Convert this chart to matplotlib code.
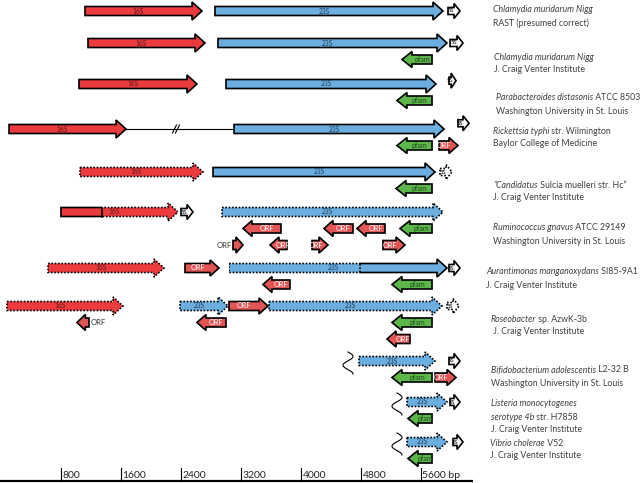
import numpy as np
import matplotlib.pyplot as plt
from matplotlib.patches import Polygon, Rectangle

plt.rcParams['font.family'] = ['Lato', 'DejaVu Sans']

# ---- data: features in bp, (kind, start, end, lane, dotted)
# start > end means the feature sits on the minus strand
# dotted: 0 = solid outline, 1 = dotted outline, (a, b) = dotted only between a and b
chlamydia_rast = [('16S', 1120, 2680, 0, 0), ('23S', 2853, 5893, 0, 0), ('5S', 5960, 6120, 0, 0)]
chlamydia_jcvi = [('16S', 1160, 2720, 0, 0), ('23S', 2893, 5947, 0, 0), ('5S', 5987, 6160, 0, 0),
                  ('pfam', 5747, 5347, 1, 0)]
parabacteroides = [('16S', 1040, 2613, 0, 0), ('23S', 3000, 5800, 0, 0), ('5S', 5973, 6067, -0.2, 0),
                   ('pfam', 5747, 5280, 1, 0)]
rickettsia = [('16S', 107, 1667, 0, 0), ('23S', 3107, 5907, 0, 0), ('5S', 6093, 6240, -0.35, 0),
              ('pfam', 5747, 5280, 1, 0), ('ORF', 5840, 6093, 1, 0)]
candidatus = [('16S', 1053, 2693, 0, 1), ('23S', 2827, 5787, 0, 0), ('5S', 5853, 6013, 0, 1),
              ('pfam', 5747, 5267, 1, 0)]
ruminococcus = [('16S', 800, 2360, 0, (1347, 2360)), ('5S', 2400, 2560, 0, 0), ('23S', 2947, 5893, 0, 1),
                ('ORF', 3733, 3227, 1, 0), ('ORF', 3093, 3227, 2, 0), ('ORF', 3813, 3587, 2, 0),
                ('ORF', 4147, 4360, 2, 0), ('ORF', 4693, 4307, 1, 0), ('ORF', 5120, 4747, 1, 0),
                ('pfam', 5747, 5320, 1, 0), ('ORF', 5093, 5387, 2, 0)]
aurantimonas = [('16S', 627, 2173, 0, 1), ('ORF', 2453, 2907, 0, 0), ('23S', 3040, 5947, 0, (3040, 4787)),
                ('5S', 5973, 6120, 0, 0), ('ORF', 3853, 3493, 1, 0), ('pfam', 5747, 5213, 1, 0)]
roseobacter = [('16S', 80, 1627, 0, 1), ('ORF', 1173, 1013, 1, 0), ('23S', 2387, 3027, 0, 1),
               ('ORF', 3040, 3560, 0, 0), ('23S', 3573, 5880, 0, 1), ('5S', 5947, 6107, 0, 1),
               ('ORF', 3000, 2613, 1, 0), ('pfam', 5747, 5213, 1, 0), ('ORF', 5453, 5147, 2, 0)]
bifidobacterium = [('23S', 4773, 5787, 0, 1), ('5S', 5973, 6120, 0, 0), ('pfam', 5747, 5213, 1, 0),
                   ('ORF', 5787, 6067, 1, 0)]
listeria = [('23S', 5413, 5947, 0, 1), ('5S', 5987, 6120, 0, 0), ('pfam', 5747, 5427, 1, 0)]
vibrio = [('23S', 5413, 5947, 0, 1), ('5S', 6027, 6160, 0, 0), ('pfam', 5747, 5427, 1, 0)]

genomes = [chlamydia_rast, chlamydia_jcvi, parabacteroides, rickettsia, candidatus, ruminococcus,
           aurantimonas, roseobacter, bifidobacterium, listeria, vibrio]

# gap between 16S and 23S in Rickettsia, and contig breaks (squiggles)
rickettsia_gap = (1667, 3107, 2333)
breaks = {8: 4627, 9: 5280, 10: 5280}

# strain / source labels: list of lines, each line a list of (text, italic)
labels = [
    [[('Chlamydia muridarum Nigg', True)], [('RAST (presumed correct)', False)]],
    [[('Chlamydia muridarum Nigg', True)], [('J. Craig Venter Institute', False)]],
    [[('Parabacteroides distasonis', True), (' ATCC 8503', False)], [('Washington University in St. Louis', False)]],
    [[('Rickettsia typhi', True), (' str. Wilmington', False)], [('Baylor College of Medicine', False)]],
    [[('\u201cCandidatus', True), (' Sulcia muelleri str. Hc\u201d', False)], [('J. Craig Venter Institute', False)]],
    [[('Ruminococcus gnavus', True), (' ATCC 29149', False)], [('Washington University in St. Louis', False)]],
    [[('Aurantimonas manganoxydans', True), (' SI85-9A1', False)], [('J. Craig Venter Institute', False)]],
    [[('Roseobacter', True), (' sp. AzwK-3b', False)], [(' J. Craig Venter Institute', False)]],
    [[('Bifidobacterium adolescentis', True), (' L2-32 B', False)], [('Washington University in St. Louis', False)]],
    [[('Listeria monocytogenes', True)], [('serotype 4b', True), (' str. H7858', False)], [('J. Craig Venter Institute', False)]],
    [[('Vibrio cholerae', True), (' V52', False)], [('J. Craig Venter Institute', False)]],
]

ticks = [800, 1600, 2400, 3200, 4000, 4800, 5600]

# ---- layout (pixels)
BPP = 800 / 60.0  # bp per pixel


def bp(px):
    return (px - 1) * BPP


row_y = [11, 43, 84, 129, 172, 212, 268, 306, 361, 402, 442]
label_x = [493, 494, 496, 493, 493, 493, 486, 491, 491, 491, 490]
label_y = [10, 57, 98, 131, 185, 228, 272, 319, 370, 404, 443]
LANE = 16.5
LABEL_FS = 6.3

# kind: body height, head height, head length (px), fill, text colour, font size
shapes = {
    '16S': (9, 18, 10, '#ec3b3f', '#5a1515', 4.8),
    '23S': (9, 18, 10, '#6caee0', '#1c3d5e', 4.8),
    '5S': (7, 15, 6, 'white', 'black', 4.2),
    'pfam': (9, 16, 10, '#5db64a', '#1e4a1a', 5.0),
    'ORF': (9, 16, 9, '#e25555', 'white', 5.2),
}

fig = plt.figure(figsize=(6.4, 4.83), dpi=100)
ax = fig.add_axes([0, 0, 1, 1])
ax.set_xlim(bp(0), bp(640))
ax.set_ylim(483, 0)
ax.axis('off')


def outline(pts, ls, clip=None):
    p = Polygon(pts, closed=True, fill=False, edgecolor='black', lw=1.2, linestyle=ls, zorder=3)
    ax.add_patch(p)
    if clip is not None:
        r = Rectangle((clip[0], 0), clip[1] - clip[0], 483, transform=ax.transData)
        p.set_clip_path(r)


def draw_feature(kind, start, end, yc, dotted):
    body, head, hlen, fill, tcol, fs = shapes[kind]
    lo, hi = min(start, end), max(start, end)
    hl = min(hlen * BPP, (hi - lo) * 0.7)
    b, h = body / 2.0, head / 2.0
    if end > start:
        neck = hi - hl
        pts = [(lo, yc - b), (neck, yc - b), (neck, yc - h), (hi, yc), (neck, yc + h), (neck, yc + b), (lo, yc + b)]
        body_lo, body_hi = lo, neck
    else:
        neck = lo + hl
        pts = [(hi, yc - b), (neck, yc - b), (neck, yc - h), (lo, yc), (neck, yc + h), (neck, yc + b), (hi, yc + b)]
        body_lo, body_hi = neck, hi
    ax.add_patch(Polygon(pts, closed=True, facecolor=fill, edgecolor='none', zorder=2))
    if dotted == 0:
        outline(pts, '-')
    elif dotted == 1:
        outline(pts, (0, (1, 1)))
    else:
        a, c = dotted
        outline(pts, (0, (1, 1)), clip=(a - 1, c + 1))
        if a <= lo + 1:
            outline(pts, '-', clip=(c, hi + 200))
            ax.plot([c, c], [yc - b, yc + b], color='black', lw=1.2, ls=(0, (1, 1)), zorder=3)
        else:
            outline(pts, '-', clip=(lo - 200, a))
            ax.plot([a, a], [yc - b, yc + b], color='black', lw=1.2, zorder=3)
    if kind == 'ORF' and hi - lo < 200:
        if end > start:
            ax.text(lo - 1.5 * BPP, yc, 'ORF', ha='right', va='center', fontsize=5.5, color='#333333')
        else:
            ax.text(hi + 1.5 * BPP, yc, 'ORF', ha='left', va='center', fontsize=5.5, color='#333333')
        return
    ax.text((body_lo + body_hi) / 2.0, yc, kind, ha='center', va='center', fontsize=fs, color=tcol, zorder=4)


for i, feats in enumerate(genomes):
    y0 = row_y[i]
    for kind, start, end, lane, dotted in feats:
        draw_feature(kind, start, end, y0 + lane * LANE, dotted)

# Rickettsia: line between 16S and 23S with a break mark
g0, g1, gm = rickettsia_gap
y = row_y[3]
ax.plot([g0, g1], [y, y], color='black', lw=0.8, zorder=1)
for dx in (-1.5, 1.5):
    ax.plot([gm + (dx - 2) * BPP, gm + (dx + 2) * BPP], [y + 4, y - 4], color='black', lw=0.8)

# contig breaks
t = np.linspace(0, 1, 60)
for i, xb in breaks.items():
    yy = row_y[i] - 9 + 22 * t
    xx = xb + 5 * BPP * np.sin(2 * np.pi * 1.25 * t)
    ax.plot(xx, yy, color='black', lw=0.8)

# labels
for i, lines in enumerate(labels):
    for j, parts in enumerate(lines):
        prev = None
        for txt, it in parts:
            style = 'italic' if it else 'normal'
            if prev is None:
                prev = ax.text(bp(label_x[i]), label_y[i] + 13 * j, txt, ha='left', va='center',
                               fontsize=LABEL_FS, color='#404040', style=style)
            else:
                prev = ax.annotate(txt, xy=(1, 0.5), xycoords=prev, ha='left', va='center',
                                   fontsize=LABEL_FS, color='#404040', style=style)

# scale bar
ax.plot([bp(0), bp(473)], [481, 481], color='black', lw=1.6, solid_capstyle='butt')
for k, tv in enumerate(ticks):
    ax.plot([tv, tv], [468, 481], color='black', lw=0.8)
    txt = str(tv) + (' bp' if k == len(ticks) - 1 else '')
    ax.text(tv + 1.5 * BPP, 475, txt, ha='left', va='center', fontsize=7.5, color='#222222')

fig.savefig('out.png', dpi=100)
